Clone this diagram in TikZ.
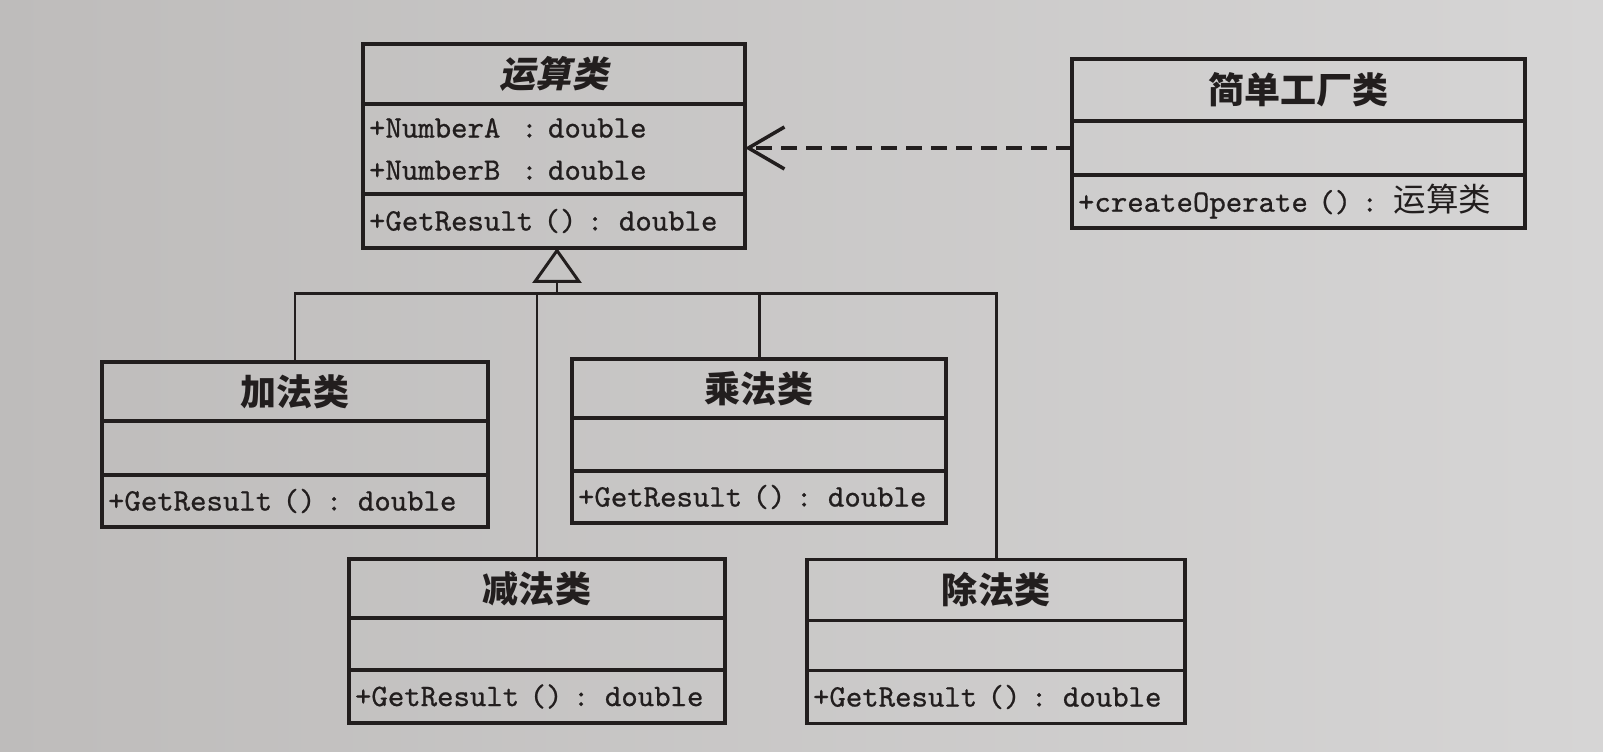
\documentclass[tikz,border=0pt]{standalone}
\usepackage{fontspec}
\newfontfamily\cjk{Noto Sans CJK SC}
\newfontfamily\cjkit{Noto Sans CJK SC}[FakeSlant=0.2]
\newfontfamily\memberfont{lmmono10-regular}[Extension=.otf,FakeBold=0.7]
\usetikzlibrary{positioning,arrows.meta}
\definecolor{ink}{RGB}{34,30,30}
\definecolor{paperl}{RGB}{190,188,187}
\definecolor{paperr}{RGB}{214,213,213}
\tikzset{
  classname/.style={draw=ink,line width=2pt,outer sep=0pt,inner sep=0pt,text=ink,
    font=\fontsize{20.5}{24}\selectfont\cjk\bfseries},
  member/.style={draw=ink,line width=2pt,outer sep=0pt,inner xsep=0.12cm,inner ysep=0pt,
    align=left,text=ink,font=\fontsize{17.8}{24}\selectfont\memberfont},
  link/.style={draw=ink,line width=1.7pt}
}

\begin{document}
\begin{tikzpicture}[x=0.02cm,y=-0.02cm]
\shade[left color=paperl,right color=paperr] (0,0) rectangle (1603,751);
\useasboundingbox (0,0) rectangle (1603,751);

\node[classname,minimum width=7.64cm,minimum height=1.20cm] (opname) at (554,74) {\cjkit\bfseries 运算类};
\node[member,text width=7.40cm,minimum height=1.80cm,below=0pt of opname] (opattr)
  {+NumberA\ \ : double\\+NumberB\ \ : double};
\node[member,text width=7.40cm,minimum height=1.08cm,below=0pt of opattr] (opmeth) {+GetResult () : double};

\node[classname,minimum width=9.06cm,minimum height=1.24cm] (facname) at (1298.5,90) {简单工厂类};
\node[member,text width=8.82cm,minimum height=1.08cm,below=0pt of facname] (facattr) {};
\node[member,text width=8.82cm,minimum height=1.06cm,below=0pt of facattr] (facmeth)
  {+createOperate () : {\cjk\fontsize{18.5}{24}\selectfont 运算类}};

\node[classname,minimum width=7.72cm,minimum height=1.18cm] (addname) at (295,391.5) {加法类};
\node[member,text width=7.48cm,minimum height=1.08cm,below=0pt of addname] (addattr) {};
\node[member,text width=7.48cm,minimum height=1.04cm,below=0pt of addattr] (addmeth) {+GetResult () : double};

\node[classname,minimum width=7.48cm,minimum height=1.18cm] (mulname) at (759,388.5) {乘法类};
\node[member,text width=7.24cm,minimum height=1.06cm,below=0pt of mulname] (mulattr) {};
\node[member,text width=7.24cm,minimum height=1.04cm,below=0pt of mulattr] (mulmeth) {+GetResult () : double};

\node[classname,minimum width=7.52cm,minimum height=1.18cm] (subname) at (537,588.5) {减法类};
\node[member,text width=7.28cm,minimum height=1.04cm,below=0pt of subname] (subattr) {};
\node[member,text width=7.28cm,minimum height=1.06cm,below=0pt of subattr] (submeth) {+GetResult () : double};

\node[classname,minimum width=7.56cm,minimum height=1.22cm] (divname) at (996,590) {除法类};
\node[member,text width=7.32cm,minimum height=1.00cm,below=0pt of divname] (divattr) {};
\node[member,text width=7.32cm,minimum height=1.06cm,below=0pt of divattr] (divmeth) {+GetResult () : double};

\draw[link,line width=2pt,dash pattern=on 0.32cm off 0.18cm,-{Straight Barb[length=0.72cm,width=0.84cm]}]
  (facattr.west) -- (facattr.west -| opattr.east);

\path (557,293) coordinate (hub);
\draw[link,-{Triangle[open,length=0.70cm,width=0.98cm]}] (hub) -- (hub |- opmeth.south);
\draw[link] (addname.north) |- (divname.north |- hub) -- (divname.north);
\draw[link] (subname.north) -- (subname.north |- hub);
\draw[link] (mulname.north) -- (mulname.north |- hub);
\end{tikzpicture}
\end{document}
